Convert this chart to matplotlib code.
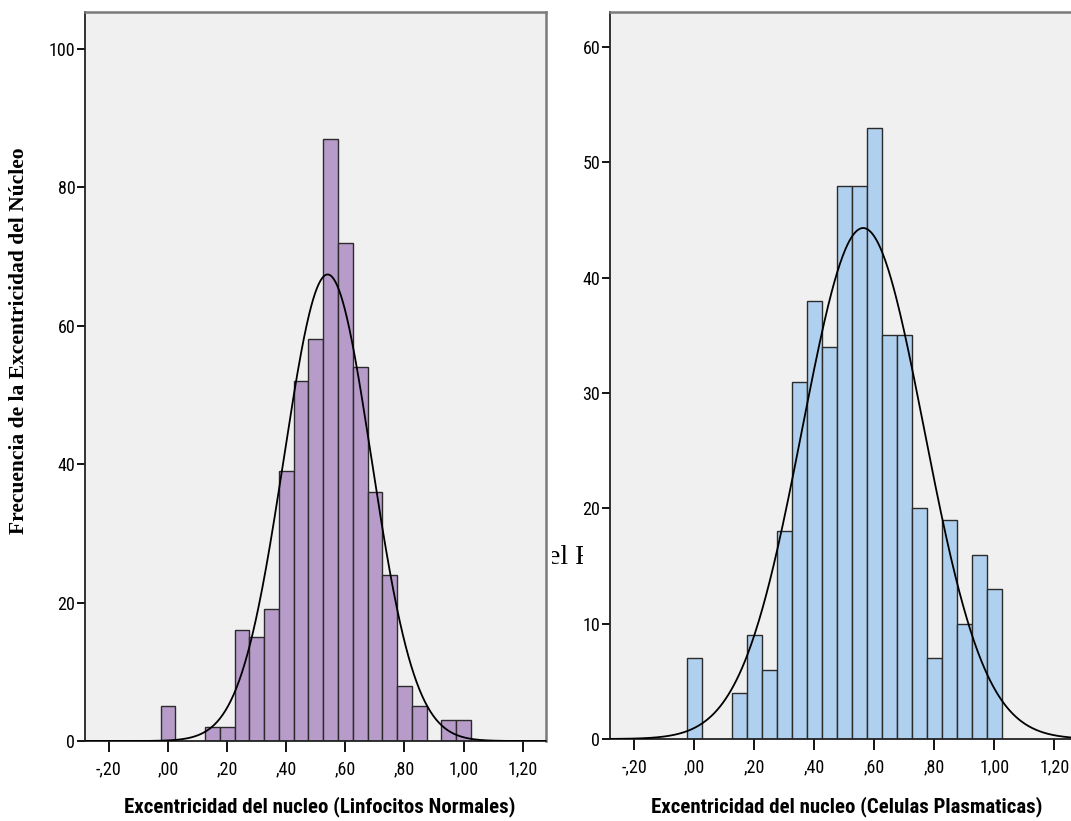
import numpy as np
import matplotlib
matplotlib.use("Agg")
import matplotlib.pyplot as plt
from matplotlib import font_manager as fm
from matplotlib.transforms import Bbox

# bin centres (width 0.05) shared by both histograms
bin_centers = [0.00, 0.05, 0.10, 0.15, 0.20, 0.25, 0.30, 0.35, 0.40, 0.45, 0.50,
               0.55, 0.60, 0.65, 0.70, 0.75, 0.80, 0.85, 0.90, 0.95, 1.00]
bin_width = 0.05

linfocitos_counts = [5, 0, 0, 2, 2, 16, 15, 19, 39, 52, 58,
                     87, 72, 54, 36, 24, 8, 5, 0, 3, 3]
plasmaticas_counts = [7, 0, 0, 4, 9, 6, 18, 31, 38, 34, 48,
                      48, 53, 35, 35, 20, 7, 19, 10, 16, 13]

# normal curve parameters
linfocitos_mean, linfocitos_sd = 0.540, 0.148
plasmaticas_mean, plasmaticas_sd = 0.563, 0.203

x_ticks = [-0.20, 0.00, 0.20, 0.40, 0.60, 0.80, 1.00, 1.20]
x_tick_labels = ["-,20", ",00", ",20", ",40", ",60", ",80", "1,00", "1,20"]
left_y_ticks = [0, 20, 40, 60, 80, 100]
right_y_ticks = [0, 10, 20, 30, 40, 50, 60]

left_xlabel = "Excentricidad del nucleo (Linfocitos Normales)"
right_xlabel = "Excentricidad del nucleo (Celulas Plasmaticas)"
y_title = "Frecuencia de la Excentricidad del Núcleo"


def pick_narrow_font():
    # SPSS uses a narrow sans; take whatever condensed face is installed
    fonts = fm.fontManager.ttflist
    names = {f.name for f in fonts}
    for n in ["Liberation Sans Narrow", "Arial Narrow", "Roboto Condensed",
              "Open Sans Condensed", "Noto Sans Condensed"]:
        if n in names:
            return n, "normal"
    for fam in ["Roboto", "Noto Sans", "Open Sans", "DejaVu Sans", "Liberation Sans"]:
        for f in fonts:
            if f.name == fam and f.stretch in ("condensed", "semi-condensed", "extra-condensed"):
                return fam, f.stretch
    return "Liberation Sans", "normal"


narrow_name, narrow_stretch = pick_narrow_font()
narrow = [narrow_name, "DejaVu Sans"]
serif = ["Liberation Serif", "DejaVu Serif"]

W, H = 1071, 821
fig = plt.figure(figsize=(W / 100, H / 100), dpi=100)
fig.patch.set_facecolor("white")


def px_axes(left, right, top, bottom):
    return fig.add_axes([left / W, 1 - bottom / H, (right - left) / W, (bottom - top) / H])


def draw_hist(ax, counts, mean, sd, color, xlim, ylim, yticks):
    centers = np.array(bin_centers)
    counts = np.array(counts)
    keep = counts > 0
    ax.bar(centers[keep], counts[keep], width=bin_width, color=color,
           edgecolor="#2b2b2b", linewidth=1.0, zorder=2)
    n = counts.sum()
    xs = np.linspace(xlim[0], xlim[1], 500)
    ys = n * bin_width * np.exp(-0.5 * ((xs - mean) / sd) ** 2) / (sd * np.sqrt(2 * np.pi))
    ax.plot(xs, ys, color="black", linewidth=1.3, zorder=3)
    ax.set_xlim(*xlim)
    ax.set_ylim(*ylim)
    ax.set_facecolor("#f0f0f0")
    ax.set_xticks(x_ticks)
    ax.set_xticklabels(x_tick_labels, family=narrow, stretch=narrow_stretch, fontsize=13)
    ax.set_yticks(yticks)
    ax.set_yticklabels([str(t) for t in yticks], family=narrow, stretch=narrow_stretch,
                       fontsize=13)
    ax.tick_params(axis="x", length=8, width=1.3, pad=6, colors="black")
    ax.tick_params(axis="y", length=6, width=1.3, pad=1, colors="black")
    for side in ["left", "bottom"]:
        ax.spines[side].set_color("#222222")
        ax.spines[side].set_linewidth(1.3)
    for side in ["top", "right"]:
        ax.spines[side].set_color("#7a7a7a")
        ax.spines[side].set_linewidth(1.8)


ax1 = px_axes(85, 546, 12, 741)
draw_hist(ax1, linfocitos_counts, linfocitos_mean, linfocitos_sd, "#b79bc9",
          (-0.281, 1.279), (0, 105.3), left_y_ticks)

ax2 = px_axes(610, 1071, 12, 739)
draw_hist(ax2, plasmaticas_counts, plasmaticas_mean, plasmaticas_sd, "#afd0ee",
          (-0.280, 1.255), (0, 63.05), right_y_ticks)
ax2.spines["right"].set_visible(False)

# axis titles under each panel, capped so they do not run past the panels
renderer = fig.canvas.get_renderer()
for label, xc, max_w in [(left_xlabel, 320, 420), (right_xlabel, 847, 420)]:
    t = fig.text(xc / W, 1 - 807 / H, label, ha="center", va="center", family=narrow,
                 stretch=narrow_stretch, fontsize=15, fontweight="bold")
    w = t.get_window_extent(renderer).width
    if w > max_w:
        t.set_fontsize(15 * max_w / w)

fig.text(19 / W, 1 - 341 / H, y_title, rotation=90, ha="center", va="center",
         family=serif, fontsize=15.5, fontweight="bold")

# stray caption fragment peeking out between the two panels
frag = fig.text(548 / W, 1 - 564 / H, "el F", ha="left", va="baseline", family=serif,
                fontsize=20)
frag.set_clip_box(Bbox.from_extents(552, 0, 583, H))
frag.set_clip_on(True)

fig.savefig("out.png", dpi=100)
